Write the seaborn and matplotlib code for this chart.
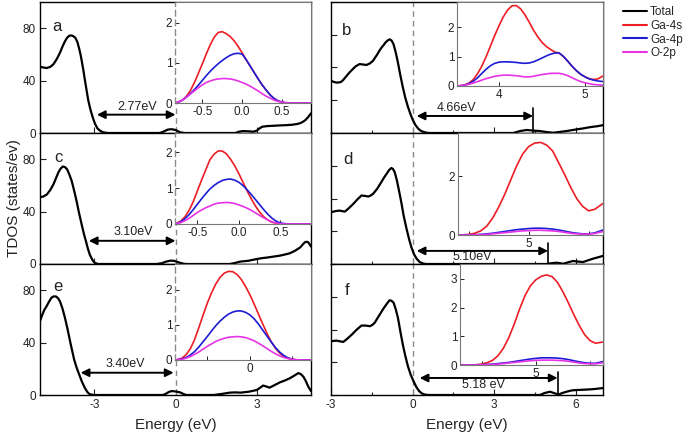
import numpy as np
import pandas as pd
import matplotlib
matplotlib.use("Agg")
import matplotlib.pyplot as plt
from matplotlib.lines import Line2D
from matplotlib.ticker import FixedLocator
import seaborn as sns

# ---------------- data ----------------
# main TDOS curves
a_e = [-5.0, -4.88, -4.75, -4.62, -4.5, -4.38, -4.26, -4.17, -4.08, -4.0, -3.92, -3.85, -3.78, -3.7, -3.62,
       -3.55, -3.5, -3.46, -3.4, -3.34, -3.28, -3.22, -3.14, -3.06, -2.97, -2.88, -2.77, -2.66, -2.5,
       -0.6, -0.5, -0.4, -0.28, -0.15, 0.0, 0.1, 0.2, 0.35,
       2.2, 2.35, 2.5, 2.7, 2.87, 3.0, 3.1, 3.2, 3.4, 3.6, 3.85, 4.1, 4.3, 4.47, 4.6, 4.7, 4.8, 4.9, 5.0]
a_tdos = [50.6, 50, 49.6, 50.5, 52.6, 56.5, 61.4, 66, 70, 72.7, 74.2, 74.5, 74, 72.8, 69.5,
          64, 59.5, 55, 48, 40, 32.5, 25, 18, 12.3, 7, 3.5, 1.5, 0.5, 0,
          0, 0.5, 1.5, 2.6, 2.9, 2.3, 1.2, 0.4, 0,
          0, 1, 1.5, 1.3, 1, 1.8, 3.5, 4.8, 5.3, 5.5, 5.8, 6, 6.3, 6.8, 7.5, 8.5, 10, 12.3, 15]

c_e = [-5.0, -4.88, -4.75, -4.62, -4.5, -4.41, -4.32, -4.24, -4.16, -4.08, -4.0, -3.92, -3.83, -3.74, -3.65,
       -3.56, -3.46, -3.38, -3.3, -3.23, -3.16, -3.05, -2.97, -2.85,
       -0.7, -0.5, -0.35, -0.18, -0.05, 0.1, 0.3, 0.4,
       2.0, 2.2, 2.38, 2.7, 3.0, 3.2, 3.37, 3.6, 3.86, 4.05, 4.22, 4.4, 4.6, 4.7, 4.78, 4.85, 4.9, 4.95, 5.0]
c_tdos = [51, 51.5, 53, 56.5, 61, 65.5, 70, 72.8, 74.4, 74, 72.3, 68.5, 63.4, 56, 48,
          39, 30, 23, 17, 11.5, 7, 2.5, 0.8, 0,
          0, 0.6, 1.8, 2.6, 2.4, 1.3, 0.2, 0,
          0, 0.8, 1.8, 2.5, 3.8, 4.5, 4.9, 5.6, 6.4, 7.3, 8.2, 10, 12.6, 15, 16.7, 17, 16.5, 15, 13.3]

e_e = [-5.0, -4.92, -4.84, -4.75, -4.66, -4.57, -4.49, -4.41, -4.33, -4.26, -4.17, -4.08, -3.98, -3.89, -3.81,
       -3.74, -3.65, -3.55, -3.45, -3.34, -3.25, -3.16, -3.0,
       -0.46, -0.35, -0.25, -0.14, 0.0, 0.17, 0.3, 0.4,
       1.4, 1.7, 2.0, 2.2, 2.4, 2.7, 3.0, 3.12, 3.23, 3.35, 3.47, 3.65, 3.86, 4.05, 4.22, 4.4, 4.53, 4.62,
       4.72, 4.8, 4.9, 5.0]
e_tdos = [56.4, 61, 65, 68, 71.5, 74.4, 75.3, 75.2, 73.8, 71.3, 66, 59, 50, 41, 33.5,
          27, 21, 15.4, 10, 5.2, 2.2, 0.5, 0,
          0, 1, 2.3, 3, 2.7, 2, 0.7, 0,
          0, 0.8, 1.8, 2, 1.8, 2.5, 3.8, 5.5, 7.2, 6.5, 5.6, 7.5, 9.7, 11.2, 12.8, 15, 16.7, 16,
          14, 11, 6.4, 3]

b_e = [-3.0, -2.9, -2.8, -2.7, -2.63, -2.55, -2.45, -2.35, -2.26, -2.1, -1.95, -1.82, -1.7, -1.58, -1.46,
       -1.38, -1.3, -1.22, -1.15, -1.07, -1.0, -0.92, -0.84, -0.77, -0.7, -0.62, -0.54, -0.45, -0.36,
       -0.27, -0.17, -0.08, 0.01, 0.1, 0.2, 0.29, 0.38, 0.5, 0.6,
       3.7, 3.95, 4.2, 4.45, 4.68, 4.9, 5.17, 5.4, 5.66, 5.95, 6.27, 6.45, 6.64, 6.8, 7.0]
b_tdos = [40, 39, 38.5, 38.6, 39, 40.5, 43, 45.5, 47.5, 50.8, 52.6, 52.3, 51.9, 53, 55,
          57.5, 60, 62.8, 65, 67, 69, 70.6, 71.5, 70.5, 67.7, 61.5, 53.8, 44, 35,
          27, 19.9, 14.5, 9.8, 6.2, 3.5, 1.8, 1, 0.3, 0,
          0, 1.5, 2.3, 1.8, 1.5, 0.8, 0.2, 0.8, 1.5, 2.5, 3.5, 4.2, 4.8, 5.2, 6]

d_e = [-3.0, -2.85, -2.68, -2.58, -2.49, -2.35, -2.18, -2.02, -1.88, -1.75, -1.63, -1.54, -1.45, -1.3, -1.15,
       -1.05, -0.95, -0.86, -0.78, -0.72, -0.66, -0.58, -0.5, -0.41, -0.33, -0.23, -0.13, -0.04, 0.05,
       0.15, 0.26, 0.38, 0.5,
       4.93, 5.1, 5.3, 5.54, 5.7, 5.9, 6.1, 6.27, 6.45, 6.64, 6.8, 7.0]
d_tdos = [39.5, 40.3, 40.8, 40.3, 40, 42.5, 45.9, 49.5, 52.3, 52, 51.5, 52.3, 53.6, 57.5, 62.5,
          66, 69, 71.8, 73.3, 72.5, 70.2, 64, 56, 46.5, 37, 27.5, 19, 12.5, 7.5,
          4, 1.5, 0.4, 0,
          0, 0.6, 1, 0.2, 1.2, 2.3, 1.8, 1.5, 2.8, 4.1, 5, 6.2]

f_e = [-3.0, -2.9, -2.8, -2.68, -2.55, -2.4, -2.24, -2.05, -1.88, -1.72, -1.57, -1.48, -1.4, -1.25, -1.09,
       -0.97, -0.85, -0.78, -0.7, -0.62, -0.54, -0.45, -0.36, -0.27, -0.17, -0.07, 0.04, 0.14, 0.24,
       0.34, 0.45, 0.6,
       4.68, 4.85, 5.05, 5.2, 5.36, 5.5, 5.66, 5.85, 6.03, 6.25, 6.52, 6.75, 7.0]
f_tdos = [41, 41.3, 41.5, 41, 40.5, 43, 46, 50, 53, 53, 52.5, 53.5, 55, 60, 65.4,
          69, 72.3, 72, 70.5, 65.5, 59, 48.5, 38.5, 30, 21.8, 15.5, 10.3, 6, 3,
          1.2, 0.3, 0,
          0, 1.5, 2.5, 1.5, 0.3, 1.5, 2.5, 3.5, 3.8, 4, 4.3, 4.7, 5.3]

# inset PDOS curves (Ga-4s, Ga-4p, O-2p)
ia_e = [-0.84, -0.8, -0.75, -0.7, -0.65, -0.6, -0.55, -0.5, -0.45, -0.4, -0.35, -0.3, -0.25, -0.2, -0.15,
        -0.1, -0.05, 0.0, 0.05, 0.1, 0.15, 0.2, 0.25, 0.3, 0.35, 0.4, 0.45, 0.5, 0.55, 0.6, 0.86]
ia_ga4s = [0, 0.02, 0.07, 0.16, 0.3, 0.5, 0.73, 0.97, 1.22, 1.45, 1.64, 1.76, 1.78, 1.73, 1.66,
           1.55, 1.41, 1.25, 1.08, 0.92, 0.76, 0.6, 0.45, 0.32, 0.2, 0.11, 0.05, 0.02, 0, 0, 0]
ia_ga4p = [0, 0.02, 0.07, 0.14, 0.23, 0.33, 0.44, 0.56, 0.68, 0.79, 0.89, 0.98, 1.06, 1.13, 1.19,
           1.23, 1.24, 1.22, 1.08, 0.92, 0.76, 0.6, 0.45, 0.32, 0.2, 0.11, 0.05, 0.02, 0, 0, 0]
ia_o2p = [0, 0.02, 0.07, 0.14, 0.22, 0.3, 0.38, 0.45, 0.51, 0.55, 0.58, 0.6, 0.61, 0.61, 0.6,
          0.58, 0.55, 0.51, 0.47, 0.42, 0.36, 0.3, 0.23, 0.17, 0.12, 0.07, 0.04, 0.02, 0.01, 0, 0]

ic_e = [-0.77, -0.75, -0.7, -0.65, -0.6, -0.55, -0.5, -0.45, -0.4, -0.35, -0.3, -0.25, -0.2, -0.15, -0.1,
        -0.05, 0.0, 0.05, 0.1, 0.15, 0.2, 0.25, 0.3, 0.35, 0.4, 0.45, 0.5, 0.55, 0.6, 0.87]
ic_ga4s = [0, 0.02, 0.08, 0.2, 0.38, 0.62, 0.92, 1.22, 1.5, 1.78, 1.94, 2.03, 2.03, 1.95, 1.8,
           1.62, 1.4, 1.16, 0.92, 0.7, 0.5, 0.33, 0.2, 0.11, 0.05, 0.02, 0, 0, 0, 0]
ic_ga4p = [0, 0.01, 0.06, 0.15, 0.26, 0.4, 0.55, 0.7, 0.84, 0.97, 1.07, 1.15, 1.21, 1.24, 1.25,
           1.22, 1.16, 1.07, 0.95, 0.82, 0.68, 0.54, 0.4, 0.27, 0.16, 0.08, 0.03, 0.01, 0, 0]
ic_o2p = [0, 0.01, 0.04, 0.09, 0.16, 0.24, 0.32, 0.39, 0.45, 0.5, 0.55, 0.58, 0.59, 0.6, 0.59,
          0.57, 0.53, 0.49, 0.44, 0.38, 0.31, 0.24, 0.17, 0.11, 0.06, 0.03, 0.01, 0, 0, 0]

ie_e = [-0.88, -0.85, -0.8, -0.75, -0.7, -0.65, -0.6, -0.55, -0.5, -0.45, -0.4, -0.35, -0.3, -0.25, -0.2,
        -0.15, -0.1, -0.05, 0.0, 0.05, 0.1, 0.15, 0.2, 0.25, 0.3, 0.35, 0.4, 0.45, 0.5, 0.55, 0.6, 0.72]
ie_ga4s = [0, 0.01, 0.05, 0.15, 0.32, 0.58, 0.92, 1.28, 1.62, 1.92, 2.17, 2.36, 2.48, 2.53, 2.52,
           2.44, 2.3, 2.1, 1.87, 1.6, 1.32, 1.04, 0.77, 0.53, 0.34, 0.2, 0.1, 0.05, 0.02, 0, 0, 0]
ie_ga4p = [0, 0.01, 0.03, 0.07, 0.14, 0.24, 0.37, 0.52, 0.67, 0.83, 0.98, 1.11, 1.22, 1.31, 1.37,
           1.4, 1.4, 1.36, 1.29, 1.18, 1.03, 0.86, 0.69, 0.52, 0.36, 0.23, 0.13, 0.06, 0.02, 0, 0, 0]
ie_o2p = [0, 0.01, 0.02, 0.05, 0.1, 0.16, 0.23, 0.31, 0.39, 0.46, 0.53, 0.58, 0.62, 0.65, 0.66,
          0.67, 0.66, 0.64, 0.6, 0.55, 0.48, 0.41, 0.33, 0.25, 0.18, 0.12, 0.07, 0.04, 0.02, 0.01, 0, 0]

ib_e = [3.51, 3.55, 3.6, 3.65, 3.7, 3.75, 3.8, 3.85, 3.9, 3.95, 4.0, 4.05, 4.1, 4.15, 4.2, 4.25, 4.3, 4.35,
        4.4, 4.45, 4.5, 4.55, 4.6, 4.65, 4.7, 4.75, 4.8, 4.85, 4.9, 4.95, 5.0, 5.05, 5.1, 5.15, 5.21]
ib_ga4s = [0, 0.01, 0.04, 0.1, 0.22, 0.42, 0.68, 1.0, 1.36, 1.72, 2.05, 2.35, 2.58, 2.72, 2.73, 2.62, 2.42,
           2.17, 1.9, 1.67, 1.48, 1.34, 1.24, 1.15, 1.12, 1.0, 0.84, 0.67, 0.52, 0.4, 0.31, 0.25, 0.22,
           0.24, 0.34]
ib_ga4p = [0, 0.01, 0.03, 0.08, 0.16, 0.28, 0.43, 0.57, 0.69, 0.77, 0.81, 0.82, 0.82, 0.81, 0.8, 0.78, 0.77,
           0.78, 0.82, 0.88, 0.95, 1.02, 1.08, 1.12, 1.12, 1.0, 0.84, 0.67, 0.52, 0.4, 0.31, 0.24, 0.2,
           0.17, 0.15]
ib_o2p = [0, 0.01, 0.03, 0.06, 0.1, 0.15, 0.2, 0.25, 0.29, 0.33, 0.35, 0.37, 0.37, 0.36, 0.35, 0.33, 0.31,
          0.31, 0.33, 0.36, 0.39, 0.41, 0.43, 0.43, 0.43, 0.4, 0.35, 0.28, 0.21, 0.15, 0.11, 0.08, 0.05,
          0.04, 0.03]

id_e = [4.41, 4.45, 4.5, 4.55, 4.6, 4.65, 4.7, 4.75, 4.8, 4.85, 4.9, 4.95, 5.0, 5.05, 5.1, 5.15, 5.2, 5.25,
        5.3, 5.35, 5.4, 5.45, 5.5, 5.55, 5.62]
id_ga4s = [0, 0.005, 0.02, 0.06, 0.14, 0.3, 0.58, 0.95, 1.38, 1.87, 2.35, 2.75, 3.0, 3.12, 3.14, 3.05, 2.85,
           2.45, 2.05, 1.62, 1.24, 0.97, 0.82, 0.87, 1.07]
id_ga4p = [0, 0, 0.005, 0.01, 0.02, 0.04, 0.06, 0.09, 0.12, 0.15, 0.18, 0.2, 0.22, 0.23, 0.23, 0.22, 0.2,
           0.17, 0.13, 0.09, 0.06, 0.04, 0.04, 0.07, 0.17]
id_o2p = [0, 0, 0, 0.005, 0.01, 0.02, 0.04, 0.06, 0.08, 0.1, 0.12, 0.14, 0.15, 0.16, 0.16, 0.15, 0.14,
          0.12, 0.09, 0.06, 0.04, 0.03, 0.03, 0.05, 0.12]

if_e = [4.30, 4.35, 4.4, 4.45, 4.5, 4.55, 4.6, 4.65, 4.7, 4.75, 4.8, 4.85, 4.9, 4.95, 5.0, 5.05, 5.1, 5.15,
        5.2, 5.25, 5.3, 5.35, 5.4, 5.45, 5.5, 5.55, 5.62]
if_ga4s = [0, 0, 0, 0.01, 0.03, 0.08, 0.16, 0.32, 0.58, 0.95, 1.42, 1.95, 2.42, 2.76, 2.97, 3.09, 3.14, 3.08,
           2.88, 2.55, 2.17, 1.76, 1.38, 1.06, 0.85, 0.76, 0.8]
if_ga4p = [0, 0, 0, 0.005, 0.01, 0.02, 0.03, 0.05, 0.07, 0.09, 0.12, 0.15, 0.18, 0.21, 0.23, 0.25, 0.25,
           0.25, 0.24, 0.22, 0.19, 0.15, 0.11, 0.08, 0.06, 0.06, 0.12]
if_o2p = [0, 0, 0, 0, 0.005, 0.01, 0.02, 0.03, 0.05, 0.07, 0.09, 0.11, 0.13, 0.15, 0.16, 0.17, 0.17, 0.17,
          0.16, 0.15, 0.13, 0.1, 0.07, 0.05, 0.04, 0.04, 0.08]

gap_labels = {"a": "2.77eV", "b": "4.66eV", "c": "3.10eV", "d": "5.10eV", "e": "3.40eV", "f": "5.18 eV"}
series_names = ["Total", "Ga-4s", "Ga-4p", "O-2p"]
series_colors = ["black", "#ee1c24", "#1c1cd6", "#e633e6"]

# ---------------- style ----------------
sns.set_style("ticks")
plt.rcParams['font.family'] = ['Liberation Sans', 'DejaVu Sans']
plt.rcParams['axes.unicode_minus'] = False
plt.rcParams['xtick.direction'] = 'in'
plt.rcParams['ytick.direction'] = 'in'

W, H = 685, 434
fig = plt.figure(figsize=(W / 100, H / 100), dpi=100)


def rect(x0, y0, x1, y1):
    return [x0 / W, 1 - y1 / H, (x1 - x0) / W, (y1 - y0) / H]


rows = [(2, 133), (133, 264), (264, 395)]
cols = [(40, 311), (331, 603)]

main_data = {"a": (a_e, a_tdos), "b": (b_e, b_tdos), "c": (c_e, c_tdos),
             "d": (d_e, d_tdos), "e": (e_e, e_tdos), "f": (f_e, f_tdos)}
inset_data = {"a": (ia_e, ia_ga4s, ia_ga4p, ia_o2p), "b": (ib_e, ib_ga4s, ib_ga4p, ib_o2p),
              "c": (ic_e, ic_ga4s, ic_ga4p, ic_o2p), "d": (id_e, id_ga4s, id_ga4p, id_o2p),
              "e": (ie_e, ie_ga4s, ie_ga4p, ie_o2p), "f": (if_e, if_ga4s, if_ga4p, if_o2p)}

inset_rects = {"a": (175, 2, 311, 103), "c": (175, 133, 311, 224), "e": (175, 264, 311, 360),
               "b": (457, 2, 603, 86), "d": (458, 133, 603, 235), "f": (460, 264, 603, 365)}
inset_xlim = {"a": (-0.84, 0.86), "c": (-0.77, 0.87), "e": (-0.88, 0.72),
              "b": (3.51, 5.21), "d": (4.41, 5.62), "f": (4.30, 5.62)}
inset_ylim = {"a": 2.52, "c": 2.53, "e": 2.74, "b": 2.85, "d": 3.46, "f": 3.52}
inset_xticks = {"a": ([-0.5, 0.0, 0.5], ["-0.5", "0.0", "0.5"]),
                "c": ([-0.5, 0.0, 0.5], ["-0.5", "0.0", "0.5"]),
                "e": ([-0.5, 0.0, 0.5], ["", "0", ""]),
                "b": ([4, 5], ["4", "5"]),
                "d": ([4.5, 5.0, 5.5], ["", "5", ""]),
                "f": ([4.5, 5.0, 5.5], ["", "5", ""])}
inset_yticks = {"a": [0, 1, 2], "c": [0, 1, 2], "e": [0, 1, 2], "b": [0, 1, 2], "d": [0, 2], "f": [0, 1, 2, 3]}

# arrows: (x_start, x_end, y, label_x, label_y, vline_x, vline_top)
arrows = {"a": (-2.9, 0.0, 14, -1.42, 19.8, None, None),
          "b": (0.15, 4.43, 13, 1.62, 19.0, 4.43, 19),
          "c": (-3.2, 0.0, 17.7, -1.57, 24.4, None, None),
          "d": (0.15, 4.98, 10, 2.2, 5.2, 4.98, 16),
          "e": (-3.5, -0.07, 17, -1.86, 24, None, None),
          "f": (0.26, 5.33, 13, 2.6, 7.5, 5.35, 17.7)}
letter_pos = {"a": (-4.37, 81), "c": (-4.33, 81), "e": (-4.33, 83),
              "b": (-2.42, 78), "d": (-2.37, 80), "f": (-2.42, 80)}

grid = [["a", "b"], ["c", "d"], ["e", "f"]]
for r, (y0, y1) in enumerate(rows):
    for c, (x0, x1) in enumerate(cols):
        p = grid[r][c]
        ax = fig.add_axes(rect(x0, y0, x1, y1))
        xe, yd = main_data[p]
        sns.lineplot(x=xe, y=yd, ax=ax, color="black", lw=1.6, sort=False, estimator=None)
        if c == 0:
            ax.set_xlim(-5, 5)
            ax.set_xticks([-3, 0, 3])
            ax.set_yticks([0, 40, 80])
        else:
            ax.set_xlim(-3, 7)
            ax.set_xticks([-3, 0, 3, 6])
            ax.xaxis.set_minor_locator(FixedLocator([-1.5, 1.5, 4.5]))
            ax.set_yticks([0, 25, 50, 75, 100])
            ax.tick_params(axis='y', labelleft=False)
        ax.set_ylim(0, 100)
        ax.tick_params(axis='both', which='major', length=4, width=0.8, labelsize=8.5, pad=3,
                       colors='#222222')
        ax.tick_params(axis='x', which='minor', length=2.5, width=0.8)
        if r < 2:
            ax.tick_params(axis='x', labelbottom=False)
        else:
            ax.set_xlabel("Energy (eV)", fontsize=11, labelpad=5)
        ax.set_ylabel("")
        for s in ax.spines.values():
            s.set_linewidth(1.0)
            s.set_color('black')
        ax.axvline(0, color='#8a8a8a', lw=1.0, dashes=(4, 3), zorder=1)
        xs, xe2, ya, lx, ly, vx, vt = arrows[p]
        ax.annotate("", xy=(xe2, ya), xytext=(xs, ya),
                    arrowprops=dict(arrowstyle='<|-|>', color='black', lw=1.4,
                                    mutation_scale=12, shrinkA=0, shrinkB=0), zorder=5)
        ax.text(lx, ly, gap_labels[p], ha='center', va='center', fontsize=9, color='#222222')
        if vx is not None:
            ax.plot([vx, vx], [0, vt], color='black', lw=1.2)
        lxp, lyp = letter_pos[p]
        ax.text(lxp, lyp, p, fontsize=12, ha='center', va='center', color='#222222')

# insets
for p in ["a", "b", "c", "d", "e", "f"]:
    x0, y0, x1, y1 = inset_rects[p]
    ia = fig.add_axes(rect(x0, y0, x1, y1))
    e, s4, p4, o2 = inset_data[p]
    df = pd.DataFrame({"E": list(e) * 3, "PDOS": list(s4) + list(p4) + list(o2),
                       "orb": ["Ga-4s"] * len(e) + ["Ga-4p"] * len(e) + ["O-2p"] * len(e)})
    sns.lineplot(data=df, x="E", y="PDOS", hue="orb", palette=dict(zip(series_names[1:], series_colors[1:])),
                 ax=ia, lw=1.2, legend=False, sort=False, estimator=None)
    ia.set_xlim(*inset_xlim[p])
    ia.set_ylim(0, inset_ylim[p])
    tk, tl = inset_xticks[p]
    ia.set_xticks(tk)
    ia.set_xticklabels(tl)
    ia.set_yticks(inset_yticks[p])
    ia.set_xlabel("")
    ia.set_ylabel("")
    ia.tick_params(axis='both', length=3, width=0.7, labelsize=8.5, pad=2, colors='#222222')
    for s in ia.spines.values():
        s.set_linewidth(0.8)
        s.set_color('#777777')
    if p in ("a", "c", "e"):
        ia.spines['left'].set_color('#8a8a8a')
        ia.spines['left'].set_linewidth(1.0)
        ia.spines['left'].set_linestyle((0, (4, 3)))

fig.text(14 / W, 1 - 198 / H, "TDOS (states/ev)", rotation=90, ha='center', va='center', fontsize=11,
         color='#222222')

handles = [Line2D([0], [0], color=col, lw=1.5) for col in series_colors]
fig.legend(handles, series_names, loc='upper left', bbox_to_anchor=(623 / W, 1 - 6 / H), frameon=False,
           fontsize=8.5, handlelength=2.0, handletextpad=0.3, labelspacing=0.15, borderpad=0,
           borderaxespad=0)

fig.savefig("out.png", dpi=100)
